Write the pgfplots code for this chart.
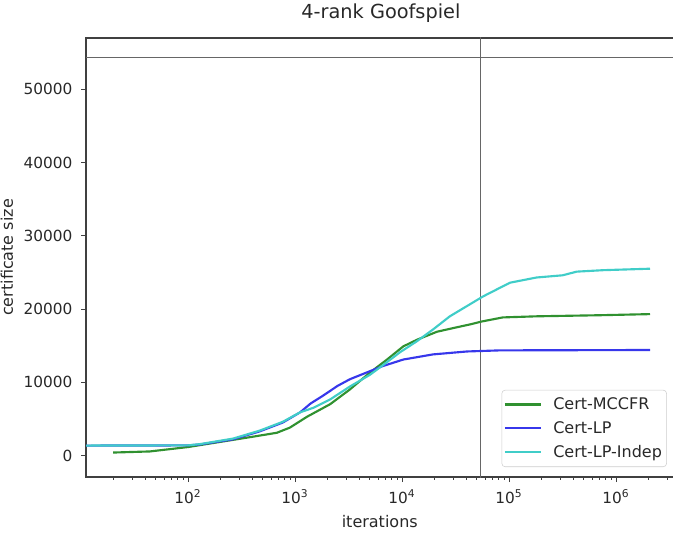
\documentclass[border=0pt]{standalone}
\usepackage{pgfplots}
\pgfplotsset{compat=1.18}
\usepackage{fontspec}
\setmainfont{DejaVu Sans}
\definecolor{cgreen}{RGB}{48,145,48}
\definecolor{cblue}{RGB}{55,55,235}
\definecolor{ccyan}{RGB}{64,205,200}
\definecolor{txt}{RGB}{40,40,40}
\begin{document}
\begin{tikzpicture}
\path[use as bounding box] (-64.5pt,-42pt) rectangle (440.25pt,357.75pt);
\begin{axis}[
  at={(0pt,0pt)}, anchor=south west,
  scale only axis, width=442.4pt, height=329.25pt,
  xmode=log, xmin=11.14, xmax=3.63e6,
  ymin=-2940, ymax=57000,
  tick pos=left, tick align=outside,
  major tick length=3.75pt, minor tick length=2pt,
  every tick/.style={black!75, line width=0.6pt},
  axis line style={black!75, line width=0.8pt},
  xtick={100,1000,10000,100000,1000000},
  xticklabels={10\textsuperscript{2},10\textsuperscript{3},10\textsuperscript{4},10\textsuperscript{5},10\textsuperscript{6}},
  minor xtick={20,30,40,50,60,70,80,90,200,300,400,500,600,700,800,900,2000,3000,4000,5000,6000,7000,8000,9000,20000,30000,40000,50000,60000,70000,80000,90000,200000,300000,400000,500000,600000,700000,800000,900000,2000000,3000000},
  ytick={0,10000,20000,30000,40000,50000},
  scaled y ticks=false,
  /pgf/number format/1000 sep={},
  /pgf/number format/assume math mode=true,
  tick label style={font=\fontsize{11.5}{13}\selectfont, text=txt},
  yticklabel style={xshift=-3pt},
  xticklabel style={yshift=-2pt},
  title={4-rank Goofspiel},
  title style={font=\fontsize{14.5}{16}\selectfont, text=txt, at={(axis description cs:0.5,1)}, anchor=base, yshift=8.25pt},
  xlabel={iterations},
  xlabel style={font=\fontsize{12}{14}\selectfont, text=txt, at={(axis description cs:0.498,0)}, anchor=base, yshift=-38pt},
  ylabel={certificate size},
  ylabel style={font=\fontsize{12}{14}\selectfont, text=txt, at={(axis description cs:0,0.5)}, anchor=center, yshift=59.25pt},
  legend cell align=left,
  legend style={at={(axis description cs:1,0)}, anchor=south east, xshift=-6.75pt, yshift=7.5pt,
    draw=black!20, rounded corners=2.5pt, fill=white, fill opacity=0.8, text opacity=1,
    font=\fontsize{12}{14}\selectfont, text=txt, row sep=3.5pt, inner xsep=1.5pt, inner ysep=3.5pt,
    /tikz/every odd column/.append style={column sep=6.5pt}},
  legend image code/.code={\draw[#1] (0pt,0pt) -- (27pt,0pt);},
]
\addplot[forget plot, black!60, line width=0.7pt] coordinates {(5,54400) (1e7,54400)};
\addplot[forget plot, black!60, line width=0.7pt] coordinates {(53600,-5000) (53600,60000)};
\addplot[cgreen, line width=1.6pt] coordinates {
(20,400) (44,550) (100,1150) (186,1780) (380,2500) (677,3100) (895,3800) (1300,5300)
(2130,7000) (3250,9000) (5000,11300) (7250,13100) (10300,14900) (13800,15800)
(21300,16900) (32500,17500) (43400,17900) (56000,18300) (87500,18850)
(181000,19000) (710000,19150) (2080000,19300)};
\addlegendentry{Cert-MCCFR}
\addplot[cblue, line width=1.6pt] coordinates {
(10,1350) (44,1360) (100,1380) (129,1500) (263,2200) (470,3300) (770,4500) (1120,5900)
(1400,7100) (1800,8100) (2500,9500) (3250,10400) (5000,11500) (6600,12200) (10300,13100)
(19500,13800) (40500,14200) (82500,14350) (2080000,14400)};
\addlegendentry{Cert-LP}
\addplot[ccyan, line width=1.6pt] coordinates {
(10,1350) (100,1380) (129,1550) (263,2300) (470,3400) (770,4600) (1120,5900) (1480,6500)
(2130,7650) (3250,9400) (5000,11000) (6600,12300) (9600,14100) (13800,15600)
(19500,17200) (28000,19000) (40500,20400) (57000,21700) (82500,22900) (103000,23600)
(181000,24300) (317000,24600) (430000,25100) (760000,25300) (2080000,25500)};
\addlegendentry{Cert-LP-Indep}
\end{axis}
\end{tikzpicture}
\end{document}
